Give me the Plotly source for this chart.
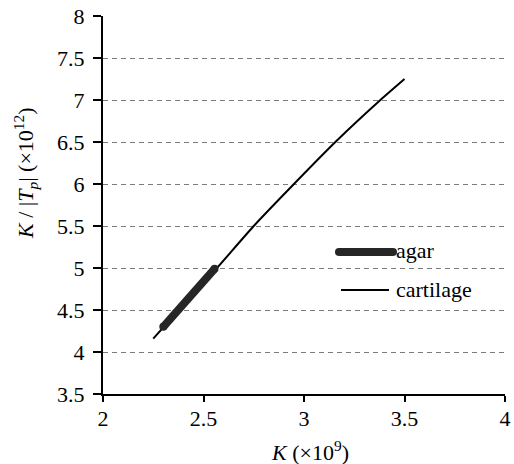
import plotly.graph_objects as go

# Data
cartilage_k = [2.25, 2.40, 2.567, 2.75, 2.95, 3.156, 3.38, 3.5]
cartilage_r = [4.16, 4.56, 5.0, 5.5, 6.0, 6.5, 7.0, 7.25]
agar_k = [2.30, 2.35, 2.40, 2.45, 2.50, 2.555]
agar_r = [4.30, 4.44, 4.58, 4.72, 4.86, 4.99]
x_ticks = [2, 2.5, 3, 3.5, 4]
y_ticks = [3.5, 4, 4.5, 5, 5.5, 6, 6.5, 7, 7.5, 8]

FONT = "Liberation Serif"
FS = 22
AGAR_COLOR = "#262626"

fig = go.Figure()
fig.add_trace(go.Scatter(x=cartilage_k, y=cartilage_r, mode="lines", name="cartilage",
                         line=dict(color="black", width=2, shape="spline", smoothing=0.6),
                         showlegend=False))
fig.add_trace(go.Scatter(x=agar_k, y=agar_r, mode="lines", name="agar",
                         line=dict(color=AGAR_COLOR, width=8), showlegend=False))
fig.add_trace(go.Scatter(x=[agar_k[0], agar_k[-1]], y=[agar_r[0], agar_r[-1]], mode="markers",
                         marker=dict(color=AGAR_COLOR, size=8), showlegend=False, hoverinfo="skip"))

W, H = 514, 464
L, R, T, B = 103, 9, 16, 70
pw, ph = W - L - R, H - T - B

def px(x):
    return (x - L) / pw

def py(y):
    return (H - B - y) / ph

shapes = [
    dict(type="line", xref="paper", yref="paper", x0=px(339), x1=px(393), y0=py(252), y1=py(252),
         line=dict(color=AGAR_COLOR, width=8)),
    dict(type="line", xref="paper", yref="paper", x0=px(341), x1=px(389), y0=py(290), y1=py(290),
         line=dict(color="black", width=2)),
]
for xe in (339, 393):
    shapes.append(dict(type="circle", xref="paper", yref="paper", xsizemode="pixel", ysizemode="pixel",
                       xanchor=px(xe), yanchor=py(252), x0=-4, x1=4, y0=-4, y1=4,
                       fillcolor=AGAR_COLOR, line=dict(width=0)))

annotations = [
    dict(text="agar", xref="paper", yref="paper", x=px(394), y=py(251), xanchor="left", yanchor="middle",
         showarrow=False, font=dict(family=FONT, size=FS, color="black")),
    dict(text="cartilage", xref="paper", yref="paper", x=px(394), y=py(289), xanchor="left", yanchor="middle",
         showarrow=False, font=dict(family=FONT, size=FS, color="black")),
    dict(text="<i>K</i> / |<i>T</i><sub><i>p</i></sub>| (×10<sup>12</sup>)", xref="paper", yref="paper",
         x=px(25), y=py(173), textangle=-90, xanchor="center", yanchor="middle",
         showarrow=False, font=dict(family=FONT, size=FS, color="black")),
    dict(text="<i>K</i> (×10<sup>9</sup>)", xref="paper", yref="paper",
         x=px(310), y=py(451), xanchor="center", yanchor="middle",
         showarrow=False, font=dict(family=FONT, size=FS, color="black")),
]

fig.update_layout(
    width=W, height=H,
    margin=dict(l=L, r=R, t=T, b=B, autoexpand=False),
    paper_bgcolor="white", plot_bgcolor="white",
    font=dict(family=FONT, size=FS, color="black"),
    shapes=shapes, annotations=annotations,
    showlegend=False,
)
fig.update_xaxes(range=[2, 4], tickvals=x_ticks, ticktext=[f"{v:g}" for v in x_ticks],
                 showgrid=False, zeroline=False, showline=True, linecolor="black", linewidth=2,
                 ticks="outside", ticklen=6, tickwidth=2, tickcolor="black",
                 ticklabelstandoff=-2, automargin=False)
fig.update_yaxes(range=[3.5, 8], tickvals=y_ticks, ticktext=[f"{v:g}" for v in y_ticks],
                 showgrid=True, gridcolor="#7a7a7a", gridwidth=1, griddash="5px,4px",
                 zeroline=False, showline=True, linecolor="black", linewidth=2,
                 ticks="outside", ticklen=8, tickwidth=2, tickcolor="black",
                 ticklabelstandoff=4, automargin=False)

fig.write_html("out.html", config={"displayModeBar": False},
               post_script="document.body.style.margin='0';document.body.style.padding='0';")
